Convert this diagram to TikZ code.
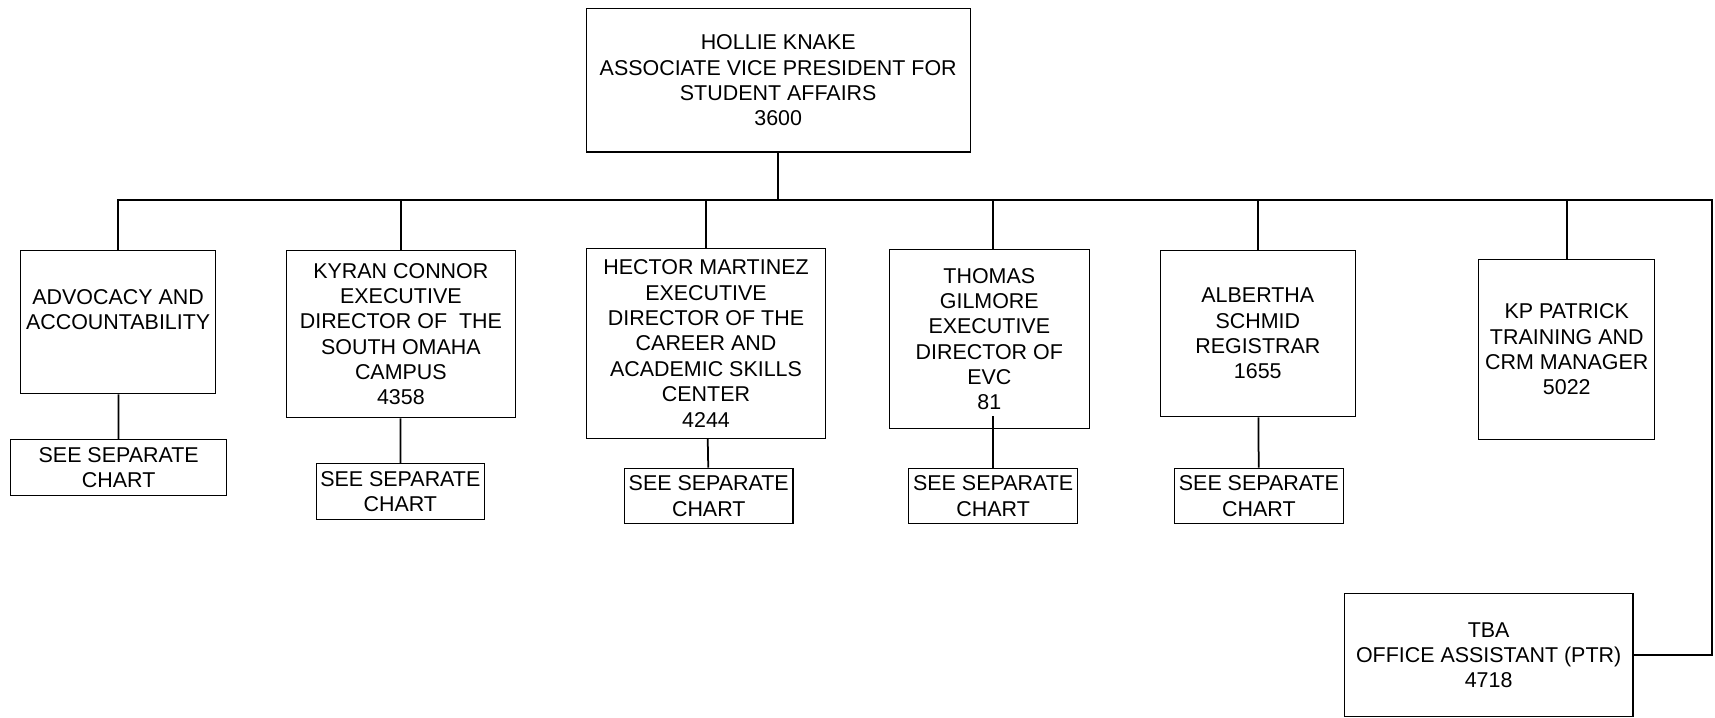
\documentclass[tikz,border=0pt]{standalone}
\usepackage{fontspec}
\setmainfont{Liberation Sans}
\tikzset{
    unit/.style = {
        rectangle, draw,
        line width=0.5pt,
        inner sep=1pt,
        align=center,
        font=\fontsize{9.8}{11.6}\selectfont
    },
    seebox/.style = {
        unit,
        minimum width=77pt,
        minimum height=25.5pt
    },
    link/.style = {
        line width=0.8pt
    }
}

\begin{document}
\begin{tikzpicture}[x=0.5pt, y=-0.5pt]

\useasboundingbox (0,0) rectangle (1568,656);

\node (avp) [unit, minimum width=175.5pt, minimum height=65.5pt] at (711.5,73.5) {HOLLIE KNAKE\\ASSOCIATE VICE PRESIDENT FOR\\STUDENT AFFAIRS\\3600};

\node (adv) [unit, minimum width=89pt, minimum height=65.5pt] at (108,294.5) {ADVOCACY AND\\ACCOUNTABILITY\\\mbox{}};
\node (kyran) [unit, minimum width=104.5pt, minimum height=76.5pt] at (366.5,305.5) {KYRAN CONNOR\\EXECUTIVE\\DIRECTOR OF\ \ THE\\SOUTH OMAHA\\CAMPUS\\4358};
\node (hector) [unit, minimum width=109.5pt, minimum height=87pt] at (645.5,314) {HECTOR MARTINEZ\\EXECUTIVE\\DIRECTOR OF THE\\CAREER AND\\ACADEMIC SKILLS\\CENTER\\4244};
\node (thomas) [unit, minimum width=91.5pt, minimum height=82pt] at (904.5,310) {THOMAS\\GILMORE\\EXECUTIVE\\DIRECTOR OF\\EVC\\81};
\node (albertha) [unit, minimum width=89pt, minimum height=76pt] at (1150,305) {ALBERTHA\\SCHMID\\REGISTRAR\\1655};
\node (kp) [unit, minimum width=80.5pt, minimum height=82.5pt] at (1432.5,319.5) {KP PATRICK\\TRAINING AND\\CRM MANAGER\\5022};
\node (tba) [unit, minimum width=132pt, minimum height=56pt] at (1361,599) {TBA\\OFFICE ASSISTANT (PTR)\\4718};

\node (see1) [seebox, minimum width=98.5pt] at (108.5,427.5) {SEE SEPARATE\\CHART};
\node (see2) [seebox] at (366,449.5) {SEE SEPARATE\\CHART};
\node (see3) [seebox] at (648,453.5) {SEE SEPARATE\\CHART};
\node (see4) [seebox] at (908,453.5) {SEE SEPARATE\\CHART};
\node (see5) [seebox] at (1151,453.5) {SEE SEPARATE\\CHART};

\coordinate (bus) at (711.5,183);
\coordinate (corner) at (1565.5,599);

\draw [link] (avp) -- (bus);
\draw [link] (bus) -| (adv.north);
\draw [link] (bus) -| (kyran.north);
\draw [link] (bus) -| (hector.north);
\draw [link] (bus) -| (thomas.north -| see4.north);
\draw [link] (bus) -| (albertha.north);
\draw [link] (bus) -| (kp.north);
\draw [link] (bus) -| (corner) -- (tba);

\draw [link] (adv) -- (see1);
\draw [link] (kyran) -- (see2);
\draw [link] (hector) -- (see3);
\draw [link, shorten >=-6pt] (see4.north) -- (see4.north |- thomas.south);
\draw [link] (albertha) -- (see5);

\end{tikzpicture}
\end{document}
